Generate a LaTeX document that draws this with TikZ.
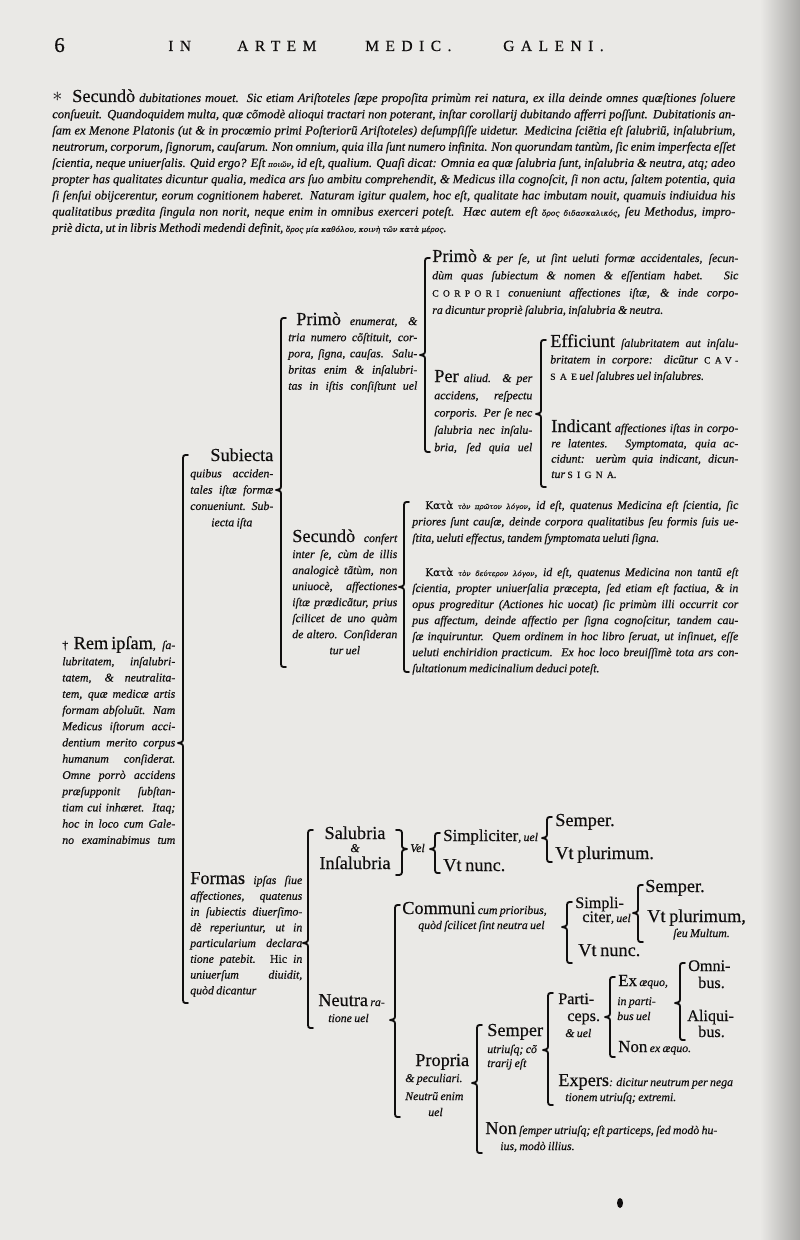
\documentclass[tikz,border=0pt]{standalone}
\usepackage{fontspec}
\setmainfont{Liberation Serif}[WordSpace=0.8, FakeBold=0.45]
\newfontfamily\grkfont{DejaVu Serif}[Scale=0.6, FakeBold=0.3]
\usetikzlibrary{positioning}

\definecolor{carta}{RGB}{234,233,230}
\definecolor{inchiostro}{RGB}{16,14,14}

\newdimen\pxu \pxu=0.025cm
\newcommand{\testo}[1][11.5]{\itshape\fontsize{8.4}{#1}\selectfont}
\newcommand{\hd}[1]{{\upshape\fontsize{13}{11.5}\selectfont #1}}
\newcommand{\hdp}[1]{{\upshape\fontsize{12}{11.5}\selectfont #1}}
\newcommand{\spc}[1]{{\upshape\fontsize{6.8}{8}\selectfont\addfontfeature{LetterSpace=45}#1}}
\newcommand{\grk}[1]{{\grkfont\itshape #1}}
\newcommand{\kata}{{\grkfont\upshape\fontsize{12.5}{11}\selectfont Κατὰ}}
\newcommand{\nl}{\linebreak}
\newcommand{\fine}{\unskip{\parfillskip=0pt\par}}

\begin{document}
\begin{tikzpicture}[
	x=0.025cm, y=-0.025cm,
	graffa/.style={line width=1.3pt, line cap=round, line join=round, inchiostro},
	testata/.style={anchor=base west, inner sep=0pt, inchiostro,
		font=\fontsize{11}{12}\selectfont\addfontfeature{LetterSpace=42}},
	paragrafo/.style={anchor=base west, inner sep=0pt, inchiostro, align=justify,
		text width=683\pxu, font=\itshape\fontsize{8.9}{11.55}\selectfont},
	blocco/.style={anchor=base west, inner sep=0pt, inchiostro, align=justify,
		font={\testo[#1]}},
	blocco/.default=11.5,
	etich/.style={anchor=base west, inner sep=0pt, inchiostro, font=\testo},
	capo/.style={anchor=base west, inner sep=0pt, inchiostro,
		font=\upshape\fontsize{13}{13}\selectfont},
	capino/.style={capo, font=\upshape\fontsize{11.5}{12}\selectfont},
	]
	
	%% graffa: x, alto, basso, punta --------------------------------
	\newcommand{\graffa}[4]{%
		\draw[graffa](#1+5,#2) .. controls (#1,#2) .. (#1,#2+6)
		--(#1,#4-6) .. controls (#1,#4-1) .. (#1-5,#4)
		.. controls (#1,#4+1) .. (#1,#4+6)
		--(#1,#3-6) .. controls (#1,#3) .. (#1+5,#3);}
	
	%% pagina
	\useasboundingbox (0,0) rectangle (800,1240);
	\fill[carta](0,0) rectangle (800,1240);
	\shade[left color=carta, right color=carta!72!black](760,0) rectangle (800,1240);
	
	%% =========================================================
	%% testatina e paragrafo
	%% =========================================================
	\node[testata, font=\fontsize{15}{15}\selectfont](pag) at (54,52){6};
	\node[testata](tIN) at (168,51){IN};
	\node[testata](tARTEM) at (237,51){ARTEM};
	\node[testata](tMEDIC) at (365,51){MEDIC.};
	\node[testata](tGALENI) at (503,51){GALENI.};
	
	\node[paragrafo](dubit) at (52,102){{\upshape\Large$\ast$}\hspace{7pt}\hd{Secundò} dubitationes mouet. Sic etiam Ariſtoteles ſæpe propoſita primùm rei natura, ex illa deinde omnes quæſtiones ſoluere\nl
		conſueuit. Quandoquidem multa, quæ cõmodè alioqui tractari non poterant, inſtar corollarij dubitando afferri poſſunt. Dubitationis an-\nl
		ſam ex Menone Platonis (ut \& in procœmio primi Poſteriorũ Ariſtoteles) deſumpſiſſe uidetur. Medicina ſciẽtia eſt ſalubriũ, inſalubrium,\nl
		neutrorum, corporum, ſignorum, cauſarum. Non omnium, quia illa ſunt numero infinita. Non quorundam tantùm, ſic enim imperfecta eſſet\nl
		ſcientia, neque uniuerſalis. Quid ergo? Eſt \grk{ποιῶν}, id eſt, qualium. Quaſi dicat: Omnia ea quæ ſalubria ſunt, inſalubria \& neutra, atq; adeo\nl
		propter has qualitates dicuntur qualia, medica ars ſuo ambitu comprehendit, \& Medicus illa cognoſcit, ſi non actu, ſaltem potentia, quia\nl
		ſi ſenſui obijcerentur, eorum cognitionem haberet. Naturam igitur qualem, hoc eſt, qualitate hac imbutam nouit, quamuis indiuidua his\nl
		qualitatibus prædita ſingula non norit, neque enim in omnibus exerceri poteſt. Hæc autem eſt \grk{ὅρος διδασκαλικός}, ſeu Methodus, impro-\nl
		priè dicta, ut in libris Methodi medendi definit, \grk{ὅρος μία καθόλου, κοινὴ τῶν κατὰ μέρος}.};
	
	%% =========================================================
	%% Subiecta
	%% =========================================================
	\node[blocco, text width=129\pxu](primoEn) at (288,325){\hspace*{8\pxu}\hd{Primò} enumerat, \&\nl tria numero cõſtituit, cor-\nl pora, ſigna, cauſas. Salu-\nl britas enim \& inſalubri-\nl tas in iſtis conſiſtunt uel\fine};
	\node[blocco=12.3, text width=306\pxu](primoPS) at (432,262){\hangindent=17\pxu\hangafter=1 \hd{Primò} \& per ſe, ut ſint ueluti formæ accidentales, ſecun-\nl dùm quas ſubiectum \& nomen \& eſſentiam habet. Sic\nl \spc{CORPORI} conueniunt affectiones iſtæ, \& inde corpo-\nl ra dicuntur propriè ſalubria, inſalubria \& neutra.};
	\node[blocco=12.3, text width=98\pxu](perAliud) at (434,382){\hd{Per} aliud. \& per\nl accidens, reſpectu\nl corporis. Per ſe nec\nl ſalubria nec inſalu-\nl bria, ſed quia uel\fine};
	\node[blocco=11.7, text width=188\pxu](effic) at (550,347){\hangindent=7\pxu\hangafter=1 \hd{Efficiunt} ſalubritatem aut inſalu-\nl britatem in corpore: dicũtur \spc{CAV-}\nl \spc{SAE} uel ſalubres uel inſalubres.};
	\node[blocco=10.9, text width=187\pxu](indic) at (551,432){\hangindent=7\pxu\hangafter=1 \hd{Indicant} affectiones iſtas in corpo-\nl re latentes. Symptomata, quia ac-\nl cidunt: uerùm quia indicant, dicun-\nl tur \spc{SIGNA}.};
	\node[blocco=11.6, text width=83\pxu](subiecta) at (190,461){\hfill\hd{Subiecta}\nl quibus acciden-\nl tales iſtæ formæ\nl conueniunt. Sub-\fine\centerline{iecta iſta}};
	\node[blocco=11.4, text width=105\pxu](secundo) at (292,542){\hd{Secundò} confert\nl inter ſe, cùm de illis\nl analogicè tãtùm, non\nl uniuocè, affectiones\nl iſtæ prædicãtur, prius\nl ſcilicet de uno quàm\nl de altero. Conſideran\fine\centerline{tur uel}};
	\node[blocco=11.7, text width=326\pxu](kata1) at (412,509){\hspace*{13\pxu}\kata{} \grk{τὸν πρῶτον λόγον}, id eſt, quatenus Medicina eſt ſcientia, ſic\nl priores ſunt cauſæ, deinde corpora qualitatibus ſeu formis ſuis ue-\nl ſtita, ueluti effectus, tandem ſymptomata ueluti ſigna.};
	\node[blocco=11.4, text width=326\pxu](kata2) at (412,576){\hspace*{13\pxu}\kata{} \grk{τὸν δεύτερον λόγον}, id eſt, quatenus Medicina non tantũ eſt\nl ſcientia, propter uniuerſalia præcepta, ſed etiam eſt factiua, \& in\nl opus progreditur (Actiones hic uocat) ſic primùm illi occurrit cor\nl pus affectum, deinde affectio per ſigna cognoſcitur, tandem cau-\nl ſæ inquiruntur. Quem ordinem in hoc libro ſeruat, ut inſinuet, eſſe\nl ueluti enchiridion practicum. Ex hoc loco breuiſſimè tota ars con-\nl ſultationum medicinalium deduci poteſt.};
	
	%% =========================================================
	%% Rem ipsam
	%% =========================================================
	\node[blocco=11.55, text width=113\pxu](remIpsam) at (62,649){{\upshape †} \hd{Rem\,ipſam}, ſa-\nl lubritatem, inſalubri-\nl tatem, \& neutralita-\nl tem, quæ medicæ artis\nl formam abſoluũt. Nam\nl Medicus iſtorum acci-\nl dentium merito corpus\nl humanum conſiderat.\nl Omne porrò accidens\nl præſupponit ſubſtan-\nl tiam cui inhæret. Itaq;\nl hoc in loco cum Gale-\nl no examinabimus tum\fine};
	
	%% =========================================================
	%% Formas ipsas
	%% =========================================================
	\node[blocco=11.2, text width=112\pxu](formas) at (190,884){\hd{Formas} ipſas ſiue\nl affectiones, quatenus\nl in ſubiectis diuerſimo-\nl dè reperiuntur, ut in\nl particularium declara\nl tione patebit. {\upshape Hic} in\nl uniuerſum diuidit,\nl quòd dicantur};
	
	%% salubria e insalubria
	\node[capo, anchor=base](salub) at (355,839){Salubria};
	\node[etich, anchor=base](salEt) at (355,852){\&};
	\node[capo, anchor=base](insal) at (355,869){Inſalubria};
	\node[etich](vel) at (410,852){Vel};
	\node[etich](simpl1) at (443,841){\hdp{Simpliciter}, uel};
	\node[capo](vtnunc1) at (443,871){Vt nunc.};
	\node[capo](semper1) at (555,826){Semper.};
	\node[capo](vtplur1) at (555,859){Vt plurimum.};
	
	%% neutra
	\node[etich](neutra1) at (318,1006){\hd{Neutra} ra-};
	\node[etich](neutra2) at (328,1022){tione uel};
	\node[etich](comm1) at (402,914){\hd{Communi} cum prioribus,};
	\node[etich](comm2) at (418,929){quòd ſcilicet ſint neutra uel};
	\node[capino](simpl2a) at (575,908){Simpli-};
	\node[etich](simpl2b) at (582,922){{\upshape\fontsize{11.5}{11}\selectfont citer}, uel};
	\node[capo](vtnunc2) at (578,956){Vt nunc.};
	\node[capo](semper2) at (645,892){Semper.};
	\node[capo](vtplur2) at (647,922){Vt plurimum,};
	\node[etich](seuMult) at (673,937){ſeu Multum.};
	
	\node[capo](propr1) at (415,1066){Propria};
	\node[etich](propr2) at (405,1082){\& peculiari.};
	\node[etich](propr3) at (405,1100){Neutrũ enim};
	\node[etich](propr4) at (428,1116){uel};
	\node[capo](semper3) at (487,1036){Semper};
	\node[etich](utr1) at (487,1053){utriuſq; cõ};
	\node[etich](utr2) at (487,1067){trarij eſt};
	\node[capino](part1) at (558,1004){Parti-};
	\node[capino](part2) at (567,1021){ceps.};
	\node[etich](part3) at (565,1037){\& uel};
	\node[etich](exaeq1) at (618,986){\hdp{Ex} æquo,};
	\node[etich](exaeq2) at (617,1005){in parti-};
	\node[etich](exaeq3) at (617,1020){bus uel};
	\node[etich](nonEx) at (618,1052){\hdp{Non} ex æquo.};
	\node[capino](omni1) at (688,971){Omni-};
	\node[capino](omni2) at (698,988){bus.};
	\node[capino](aliq1) at (687,1021){Aliqui-};
	\node[capino](aliq2) at (698,1037){bus.};
	\node[etich](expers1) at (558,1086){\hd{Expers}: dicitur neutrum per nega};
	\node[etich](expers2) at (565,1101){tionem utriuſq; extremi.};
	\node[etich](nonSem1) at (485,1134){\hd{Non} ſemper utriuſq; eſt particeps, ſed modò hu-};
	\node[etich](nonSem2) at (500,1150){ius, modò illius.};
	
	%% =========================================================
	%% graffe
	%% =========================================================
	\foreach \gx/\ga/\gb/\gp in {183/455/1003/743, 281/318/667/490,
		425/258/452/355, 541/340/487/414, 404/502/672/587,
		308/830/1028/943, 435/833/873/849, 547/817/862/838,
		395/905/1117/1020, 567/902/963/927, 638/885/942/913,
		477/1025/1153/1083, 548/993/1105/1050, 610/977/1057/1017,
		680/963/1040/1003}
	\graffa{\gx}{\ga}{\gb}{\gp};
	%% graffa chiusa dopo Salubria
	\draw[graffa](396,830) .. controls (402,830) .. (402,836)
	--(402,844) .. controls (402,848) .. (407,849)
	.. controls (402,850) .. (402,855)
	--(402,869) .. controls (402,875) .. (396,875);
	
	%% macchia d'inchiostro
	\fill[inchiostro](620,1203) ellipse [x radius=3, y radius=5];
	
\end{tikzpicture}
\end{document}
